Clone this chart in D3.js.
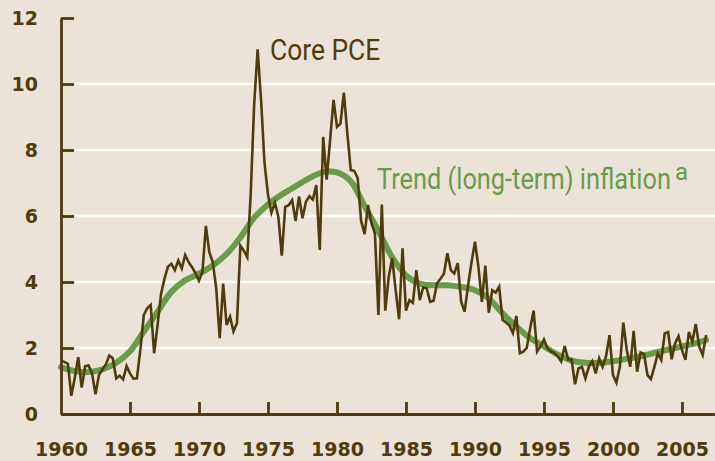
<!DOCTYPE html>
<html>
<head>
<meta charset="utf-8">
<script src="https://cdn.jsdelivr.net/npm/d3@7"></script>
<style>
  html, body { margin: 0; padding: 0; background: #ebe3d7; }
  svg { display: block; }
</style>
</head>
<body>
<svg id="chart"></svg>
<script>
// quarterly core PCE inflation, 1960Q1 - 2006Q4
const coreValues = [
  1.61, 1.58, 1.52, 0.55,  1.1, 1.72, 0.8, 1.45,  1.47, 1.23, 0.6, 1.18,
  1.35, 1.5, 1.77, 1.69,  1.08, 1.16, 1.05, 1.45,  1.23, 1.07, 1.08, 1.94,
  3.0, 3.2, 3.3, 1.84,  2.7, 3.64, 4.1, 4.46,  4.55, 4.36, 4.65, 4.41,
  4.82, 4.6, 4.45, 4.26,  4.04, 4.31, 5.7, 4.9,  4.6, 3.8, 2.3, 3.95,
  2.7, 2.95, 2.5, 2.75,  5.1, 4.95, 4.75, 6.69,  9.4, 11.05, 9.5, 7.6,
  6.65, 6.1, 6.4, 5.98,  4.8, 6.28, 6.33, 6.48,  5.85, 6.59, 5.93, 6.43,
  6.6, 6.5, 6.94, 4.97,  8.4, 7.1, 8.3, 9.52,  8.7, 8.8, 9.74, 8.5,
  7.39, 7.37, 7.15, 5.85,  5.45, 6.33, 5.78, 5.47,  3.0, 6.35, 3.13, 4.16,
  4.72, 3.76, 2.87, 5.02,  3.13, 3.45, 3.37, 4.36,  3.45, 3.84, 3.81, 3.4,
  3.43, 3.96, 4.1, 4.25,  4.87, 4.36, 4.26, 4.57,  3.4, 3.1, 3.9, 4.6,
  5.22, 4.46, 3.4, 4.5,  3.07, 3.75, 3.68, 3.86,  2.85, 2.77, 2.68, 2.45,
  2.97, 1.84, 1.89, 2.0,  2.6, 3.13, 1.89, 2.05,  2.26, 1.99, 1.9, 1.85,
  1.75, 1.59, 2.06, 1.65,  1.65, 0.9, 1.38, 1.43,  1.08, 1.43, 1.6, 1.23,
  1.69, 1.43, 1.75, 2.39,  1.18, 0.95, 1.43, 2.77,  1.94, 1.43, 2.52, 1.28,
  1.86, 1.82, 1.18, 1.06,  1.43, 1.84, 1.64, 2.44,  2.48, 1.66, 2.14, 2.36,
  1.94, 1.64, 2.49, 2.19,  2.73, 2.04, 1.79, 2.39
];
const coreStart = 1960;

// long-term trend inflation
const trendDates = [
  1960, 1961, 1962, 1963, 1964, 1965, 1966, 1967, 1968, 1969,
  1970, 1971, 1972, 1973, 1974, 1975, 1976, 1977, 1978, 1979,
  1980, 1981, 1982, 1983, 1984, 1985, 1986, 1987, 1988, 1989,
  1990, 1991, 1992, 1993, 1994, 1995, 1996, 1997, 1998, 1999,
  2000, 2001, 2002, 2003, 2004, 2005, 2006, 2006.75
];
const trendValues = [
  1.42, 1.3, 1.27, 1.35, 1.55, 1.9, 2.5, 3.1, 3.7, 4.05,
  4.25, 4.5, 4.85, 5.35, 5.95, 6.35, 6.65, 6.9, 7.15, 7.33,
  7.32, 7.05, 6.3, 5.55, 4.75, 4.2, 3.95, 3.9, 3.9, 3.85,
  3.75, 3.5, 3.05, 2.65, 2.3, 2.05, 1.8, 1.62, 1.55, 1.55,
  1.6, 1.67, 1.75, 1.85, 1.95, 2.05, 2.15, 2.24
];

const yTicks = [0, 2, 4, 6, 8, 10, 12];
const gridValues = [2, 4, 6, 8, 10];
const xTicks = [1960, 1965, 1970, 1975, 1980, 1985, 1990, 1995, 2000, 2005];

const width = 715, height = 461;
const brown = "#4f3c0c";
const green = "#6b9a4b";

const svg = d3.select("#chart").attr("width", width).attr("height", height);
svg.append("rect").attr("width", width).attr("height", height).attr("fill", "#ebe3d7");

const x = d3.scaleLinear().domain([1960, 2007.35]).range([61, 714.4]);
const y = d3.scaleLinear().domain([0, 12]).range([414, 18]);

// white gridlines
svg.append("g")
  .selectAll("line")
  .data(gridValues)
  .join("line")
  .attr("x1", 75)
  .attr("x2", width)
  .attr("y1", (d) => y(d))
  .attr("y2", (d) => y(d))
  .attr("stroke", "#ffffff")
  .attr("stroke-width", 2.5);

const trend = trendDates.map((d, i) => ({ t: d, v: trendValues[i] }));
svg.append("path")
  .datum(trend)
  .attr("fill", "none")
  .attr("stroke", green)
  .attr("stroke-width", 6)
  .attr("stroke-linecap", "round")
  .attr("d", d3.line().x((d) => x(d.t)).y((d) => y(d.v)).curve(d3.curveCatmullRom));

const core = coreValues.map((v, i) => ({ t: coreStart + i / 4, v }));
svg.append("path")
  .datum(core)
  .attr("fill", "none")
  .attr("stroke", brown)
  .attr("stroke-width", 2.6)
  .attr("stroke-linejoin", "miter")
  .attr("d", d3.line().x((d) => x(d.t)).y((d) => y(d.v)));

// axes
const yAxis = svg.append("g")
  .attr("transform", `translate(${x(1960)},0)`)
  .call(d3.axisLeft(y).tickValues(yTicks).tickSizeInner(-13).tickSizeOuter(0).tickPadding(23));

const xAxis = svg.append("g")
  .attr("transform", `translate(0,${y(0)})`)
  .call(d3.axisBottom(x).tickValues(xTicks).tickFormat(d3.format("d"))
    .tickSizeInner(-12).tickSizeOuter(0).tickPadding(29));

[yAxis, xAxis].forEach((g) => {
  g.select(".domain").attr("stroke", brown).attr("stroke-width", 2.8);
  g.selectAll(".tick line").attr("stroke", brown).attr("stroke-width", 2.8);
  g.selectAll(".tick text")
    .attr("fill", brown)
    .attr("font-family", "DejaVu Sans, sans-serif")
    .attr("font-weight", "bold")
    .attr("font-size", 19);
});
xAxis.selectAll(".tick").filter((d) => d === 1960).select("line").remove();

// series labels, squeezed horizontally like the condensed original face
svg.append("text")
  .attr("transform", "translate(270,60) scale(0.88,1)")
  .attr("fill", brown)
  .attr("font-family", "Roboto, sans-serif")
  .attr("font-size", 30)
  .text("Core PCE");

svg.append("text")
  .attr("transform", "translate(377,188.5) scale(0.845,1)")
  .attr("fill", green)
  .attr("font-family", "Roboto, sans-serif")
  .attr("font-size", 30)
  .text("Trend (long-term) inflation");

svg.append("text")
  .attr("x", 675)
  .attr("y", 180)
  .attr("fill", green)
  .attr("font-family", "Roboto, sans-serif")
  .attr("font-size", 24)
  .text("a");
</script>
</body>
</html>
